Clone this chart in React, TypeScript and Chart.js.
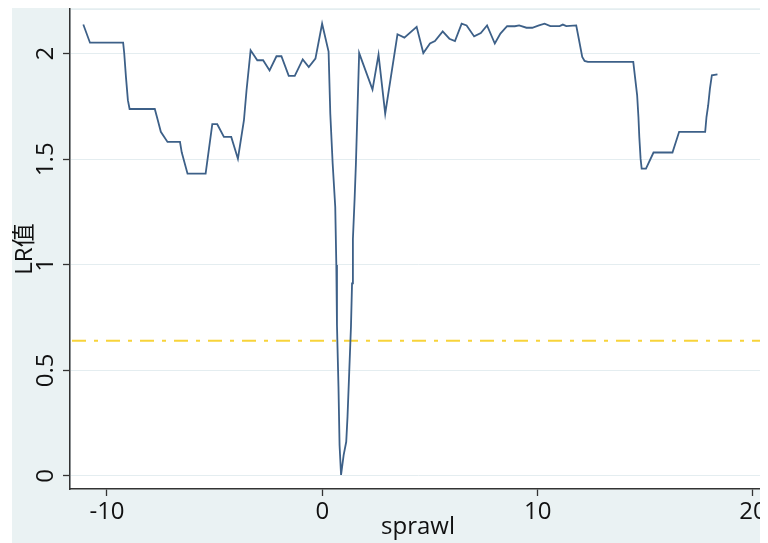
import React, { useEffect, useRef } from "react";
import { Chart, registerables } from "chart.js";

Chart.register(...registerables);

// threshold candidate values (x) and LR statistics (y)
const sprawl = [
  -11.1, -10.79, -9.25, -9.2, -9.12, -9.03, -8.95, -7.78, -7.64, -7.5, -7.19, -6.61, -6.53, -6.26,
  -5.42, -5.11, -4.88, -4.57, -4.23, -3.92, -3.64, -3.52, -3.33, -3.02, -2.75, -2.45, -2.13, -1.9,
  -1.56, -1.28, -0.91, -0.63, -0.32, -0.01, 0.29, 0.37, 0.48, 0.6, 0.65, 0.68, 0.75, 0.8, 0.87,
  0.99, 1.11, 1.17, 1.25, 1.33, 1.38, 1.42, 1.5, 1.56, 1.71, 2.33, 2.61, 2.92, 3.49, 3.81, 4.38,
  4.69, 5.0, 5.23, 5.59, 5.9, 6.16, 6.47, 6.7, 7.05, 7.36, 7.65, 8.01, 8.27, 8.58, 8.94, 9.14,
  9.48, 9.75, 10.06, 10.32, 10.59, 11.02, 11.17, 11.33, 11.79, 11.91, 12.07, 12.18, 12.33, 14.44,
  14.62, 14.68, 14.72, 14.78, 14.83, 15.03, 15.38, 16.26, 16.57, 17.78, 17.84, 17.92, 18.0, 18.09,
  18.35,
];
const lrValues = [
  2.138, 2.052, 2.052, 2.002, 1.89, 1.78, 1.738, 1.738, 1.685, 1.63, 1.582, 1.582, 1.533, 1.432,
  1.432, 1.666, 1.666, 1.606, 1.606, 1.503, 1.685, 1.827, 2.016, 1.969, 1.969, 1.921, 1.988, 1.988,
  1.895, 1.895, 1.973, 1.937, 1.977, 2.142, 2.01, 1.716, 1.48, 1.274, 0.999, 0.715, 0.423, 0.147,
  0.005, 0.099, 0.162, 0.281, 0.494, 0.707, 0.912, 1.121, 1.314, 1.48, 2.003, 1.83, 1.996, 1.716,
  2.092, 2.076, 2.127, 2.003, 2.048, 2.06, 2.106, 2.071, 2.06, 2.142, 2.134, 2.082, 2.098, 2.134,
  2.048, 2.095, 2.13, 2.13, 2.134, 2.123, 2.123, 2.134, 2.142, 2.131, 2.131, 2.138, 2.131, 2.134,
  2.071, 1.985, 1.966, 1.961, 1.961, 1.803, 1.7, 1.606, 1.503, 1.456, 1.456, 1.532, 1.532, 1.63,
  1.63, 1.7, 1.756, 1.835, 1.898, 1.902,
];
const xTicks = [-10, 0, 10, 20];
const yTicks = [0, 0.5, 1, 1.5, 2];
const criticalValue = 0.64;
const xTitle = "sprawl";
const yTitle = "LR值";

const FONT = '"Open Sans", "Noto Sans CJK SC", sans-serif';

export default function App() {
  const ref = useRef<HTMLCanvasElement>(null);

  useEffect(() => {
    if (!ref.current) return;

    const stataPlugin = {
      id: "stataLook",
      beforeDraw(chart: any) {
        const { ctx, width, height, chartArea } = chart;
        ctx.save();
        ctx.fillStyle = "#EAF2F3";
        ctx.fillRect(0, 0, width, height);
        ctx.fillStyle = "#FFFFFF";
        ctx.fillRect(
          chartArea.left,
          chartArea.top,
          chartArea.right - chartArea.left,
          chartArea.bottom - chartArea.top
        );
        ctx.strokeStyle = "#E4EDF0";
        ctx.lineWidth = 1;
        ctx.strokeRect(
          chartArea.left + 0.5,
          chartArea.top + 0.5,
          chartArea.right - chartArea.left - 1,
          chartArea.bottom - chartArea.top - 1
        );
        ctx.restore();
      },
      beforeDatasetsDraw(chart: any) {
        const { ctx, chartArea } = chart;
        const y = chart.scales.y.getPixelForValue(criticalValue);
        ctx.save();
        ctx.strokeStyle = "#F8D33A";
        ctx.lineWidth = 2;
        ctx.setLineDash([14, 8, 4, 8]);
        ctx.beginPath();
        ctx.moveTo(chartArea.left + 2, y);
        ctx.lineTo(chartArea.right - 6, y);
        ctx.stroke();
        ctx.restore();
      },
    };

    const chart = new Chart(ref.current, {
      type: "line",
      data: {
        datasets: [
          {
            label: "LR",
            data: sprawl.map((x, i) => ({ x, y: lrValues[i] })),
            borderColor: "#3D6088",
            borderWidth: 1.8,
            pointRadius: 0,
            tension: 0,
            fill: false,
          },
        ],
      },
      options: {
        animation: false,
        responsive: false,
        devicePixelRatio: 1,
        layout: { padding: { top: 1, right: 2, left: 0, bottom: 0 } },
        plugins: { legend: { display: false }, tooltip: { enabled: false } },
        scales: {
          x: {
            type: "linear",
            min: -11.718,
            max: 20.604,
            afterBuildTicks: (s: any) => {
              s.ticks = xTicks.map((v) => ({ value: v }));
            },
            afterFit: (s: any) => {
              s.height = 54;
              s.paddingLeft = 0;
              s.paddingRight = 0;
            },
            grid: {
              drawOnChartArea: false,
              drawTicks: true,
              tickLength: 7,
              tickColor: "#333333",
              tickWidth: 1.3,
            },
            border: { display: true, color: "#333333", width: 1.5 },
            ticks: {
              font: { family: FONT, size: 24 },
              color: "#111111",
              padding: 2,
              maxRotation: 0,
              autoSkip: false,
              callback: (v: any) => String(v),
            },
            title: {
              display: true,
              text: xTitle,
              font: { family: FONT, size: 24 },
              color: "#111111",
              padding: { top: 0, bottom: 1 },
            },
          },
          y: {
            type: "linear",
            min: -0.0616,
            max: 2.2117,
            afterBuildTicks: (s: any) => {
              s.ticks = yTicks.map((v) => ({ value: v }));
            },
            afterFit: (s: any) => {
              s.width = 58;
              s.paddingTop = 0;
              s.paddingBottom = 0;
            },
            grid: {
              color: "#E4EDF0",
              lineWidth: 1,
              drawTicks: true,
              tickLength: 7,
              tickColor: "#333333",
              tickWidth: 1.3,
            },
            border: { display: true, color: "#333333", width: 1.5 },
            ticks: {
              font: { family: FONT, size: 24 },
              color: "#111111",
              padding: 0,
              minRotation: 90,
              maxRotation: 90,
              crossAlign: "center",
              autoSkip: false,
              callback: (v: any) => String(v),
            },
            title: {
              display: true,
              text: yTitle,
              font: { family: FONT, size: 24, lineHeight: 1.1 },
              color: "#111111",
              padding: { top: 0, bottom: 0 },
            },
          },
        },
      },
      plugins: [stataPlugin],
    });

    return () => chart.destroy();
  }, []);

  return (
    <div style={{ marginLeft: 4 }}>
      <canvas ref={ref} width={756} height={535} style={{ display: "block" }} />
    </div>
  );
}
